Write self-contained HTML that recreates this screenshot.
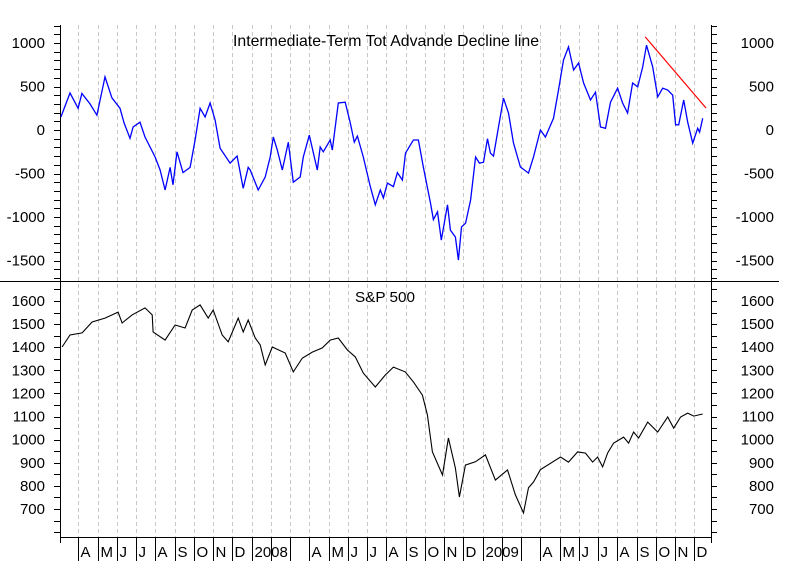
<!DOCTYPE html>
<html><head><meta charset="utf-8"><style>
html,body{margin:0;padding:0;background:#fff;}
svg{display:block;font-family:"Liberation Sans",Arial,sans-serif;}
</style></head><body>
<svg id="chart" width="792" height="573" viewBox="0 0 792 573" xmlns="http://www.w3.org/2000/svg">
<rect x="0" y="0" width="792" height="573" fill="#fff"/>
<g id="grid"></g>
<g id="axes"></g>
<g id="series"></g>
<text x="386" y="46" text-anchor="middle" font-size="16" textLength="306" lengthAdjust="spacingAndGlyphs" fill="#000">Intermediate-Term Tot Advande Decline line</text>
<text x="385" y="302" text-anchor="middle" font-size="15" textLength="60" lengthAdjust="spacingAndGlyphs" fill="#000">S&amp;P 500</text>
</svg>
<script>
// months since 1 Mar 2007
const adMonths = [0.10,0.57,0.99,1.19,1.61,1.97,2.39,2.75,3.17,3.38,3.69,3.85,4.21,4.47,4.99,5.25,5.51,5.77,5.92,6.13,6.44,6.81,7.07,7.33,7.59,7.85,8.11,8.37,8.89,9.25,9.57,9.83,9.93,10.35,10.71,10.97,11.13,11.34,11.60,11.91,12.17,12.53,12.69,13.00,13.42,13.57,13.73,14.09,14.20,14.51,14.87,15.13,15.34,15.50,15.81,16.17,16.43,16.69,16.85,17.06,17.37,17.58,17.84,18.00,18.41,18.67,18.93,19.30,19.45,19.66,19.86,20.18,20.33,20.59,20.75,20.91,21.12,21.38,21.64,21.84,22.05,22.26,22.41,22.57,22.83,23.09,23.35,23.61,23.97,24.39,24.65,25.01,25.27,25.69,25.95,26.21,26.47,26.73,26.99,27.25,27.61,27.87,28.13,28.39,28.65,29.02,29.28,29.54,29.80,30.06,30.32,30.52,30.84,31.10,31.36,31.62,31.88,32.03,32.19,32.45,32.66,32.92,33.18,33.28,33.44];
const adValues = [150,425,250,420,300,170,610,370,250,80,-95,35,90,-80,-310,-460,-690,-430,-630,-250,-490,-430,-115,250,150,310,115,-210,-380,-300,-670,-430,-460,-690,-540,-310,-80,-230,-460,-140,-600,-540,-310,-60,-460,-195,-250,-115,-230,310,320,80,-140,-70,-310,-650,-860,-690,-780,-610,-650,-490,-575,-265,-115,-115,-430,-840,-1030,-940,-1265,-860,-1150,-1230,-1495,-1115,-1070,-805,-310,-380,-370,-100,-265,-300,35,365,195,-150,-425,-495,-310,0,-80,135,460,805,955,690,770,540,345,435,35,20,320,480,310,195,540,495,725,975,725,380,480,460,400,60,60,345,90,-150,20,-25,135];
const spMonths = [0.16,0.57,1.20,1.72,2.39,3.07,3.28,3.80,4.47,4.84,4.89,5.51,6.03,6.55,6.92,7.33,7.75,8.01,8.48,8.79,9.31,9.57,9.83,10.19,10.45,10.71,11.08,11.75,12.17,12.64,13.16,13.68,14.09,14.51,14.98,15.39,15.81,16.43,16.95,17.37,17.99,18.41,18.88,19.14,19.40,19.92,20.23,20.59,20.80,21.11,21.63,22.15,22.67,23.30,23.71,24.13,24.39,24.65,25.01,26.05,26.47,26.94,27.35,27.72,27.98,28.24,28.50,28.81,29.33,29.59,29.85,30.11,30.58,31.10,31.62,31.93,32.29,32.66,32.97,33.44];
const spValues = [1401,1453,1462,1509,1526,1552,1505,1540,1570,1540,1466,1431,1496,1483,1561,1583,1526,1561,1453,1423,1526,1466,1518,1440,1410,1323,1401,1375,1293,1353,1379,1397,1431,1440,1388,1358,1288,1228,1280,1314,1293,1250,1193,1107,947,847,1007,877,752,890,904,934,825,869,761,683,792,817,870,925,903,947,942,903,925,882,942,985,1011,985,1033,1007,1076,1033,1098,1050,1098,1115,1102,1111];
const trendMonths = [30.45,33.61];
const trendValues = [1070,253];
const monthLabels = ['A','M','J','J','A','S','O','N','D','2008','','','A','M','J','J','A','S','O','N','D','2009','','','A','M','J','J','A','S','O','N','D'];
const topTicks = [1000,500,0,-500,-1000,-1500];
const botTicks = [1600,1500,1400,1300,1200,1100,1000,900,800,700];

const NS='http://www.w3.org/2000/svg';
function xOf(m){return 59+m*19.25;}
function yTop(v){return 130-v*0.087;}
function yBot(v){return 301+(1600-v)*0.2311;}
function mk(tag,attrs,parent){const e=document.createElementNS(NS,tag);for(const k in attrs)e.setAttribute(k,attrs[k]);parent.appendChild(e);return e;}
const grid=document.getElementById('grid'),axes=document.getElementById('axes'),series=document.getElementById('series');

for(let i=0;i<monthLabels.length;i++){
  const x=Math.round(xOf(i+1))+0.5;
  const g=mk('line',{x1:x,y1:25,x2:x,y2:537,stroke:'#c8c8c8','stroke-dasharray':'4,3','stroke-width':1},grid);
  
  
  const s=mk('line',{x1:x,y1:537,x2:x,y2:561,stroke:'#000','stroke-width':1},axes);
  
  
  if(monthLabels[i]){
    const t=mk('text',{x:x+2,y:557,'font-size':15,fill:'#000'},axes);
    t.textContent=monthLabels[i];
    
    
  }
}
[[60.5,25,60.5,543],[711.5,25,711.5,543],[0,281.5,779,281.5],[60,537.5,711,537.5]].forEach(function(c){
  const l=mk('line',{x1:c[0],y1:c[1],x2:c[2],y2:c[3],stroke:'#000','stroke-width':1},axes);
  
  
});
for(let v=1200;v>=-1700;v-=100){
  const y=Math.round(yTop(v))+0.5;
  if(y<25||y>281)continue;
  const a=mk('line',{x1:54,y1:y,x2:60,y2:y,stroke:'#000'},axes);
  
  
  const b=mk('line',{x1:711,y1:y,x2:717,y2:y,stroke:'#000'},axes);
  
  
}
topTicks.forEach(function(v){
  const y=yTop(v)+5;
  const a=mk('text',{x:45,y:y,'text-anchor':'end','font-size':15,fill:'#000'},axes);a.textContent=v;
  
  
  const b=mk('text',{x:774,y:y,'text-anchor':'end','font-size':15,fill:'#000'},axes);b.textContent=v;
  
  
});
for(let v=1700;v>=550;v-=50){
  const y=Math.round(yBot(v))+0.5;
  if(y<283||y>536)continue;
  const a=mk('line',{x1:54,y1:y,x2:60,y2:y,stroke:'#000'},axes);
  
  
  const b=mk('line',{x1:711,y1:y,x2:717,y2:y,stroke:'#000'},axes);
  
  
}
botTicks.forEach(function(v){
  const y=yBot(v)+5;
  const a=mk('text',{x:45,y:y,'text-anchor':'end','font-size':15,fill:'#000'},axes);a.textContent=v;
  
  
  const b=mk('text',{x:774,y:y,'text-anchor':'end','font-size':15,fill:'#000'},axes);b.textContent=v;
  
  
});
function path(ms,vs,yf){return ms.map(function(m,i){return (i?'L':'M')+xOf(m).toFixed(1)+','+yf(vs[i]).toFixed(1);}).join('');}
const ad=mk('path',{d:path(adMonths,adValues,yTop),fill:'none',stroke:'#0000ff','stroke-width':1.3},series);


const sp=mk('path',{d:path(spMonths,spValues,yBot),fill:'none',stroke:'#000','stroke-width':1.1},series);


const tr=mk('path',{d:path(trendMonths,trendValues,yTop),fill:'none',stroke:'#ff0000','stroke-width':1.2},series);


</script>
</body></html>
